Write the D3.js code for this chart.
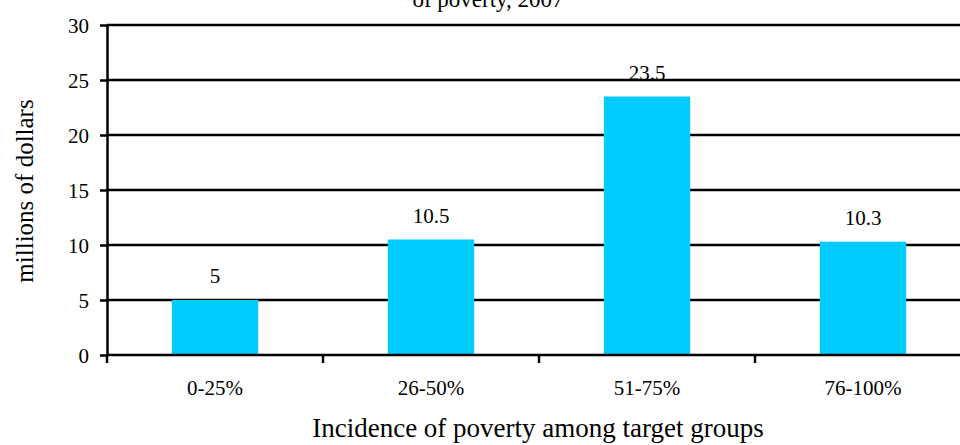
<!DOCTYPE html>
<html><head><meta charset="utf-8">
<script src="https://cdn.jsdelivr.net/npm/d3@7"></script>
<style>body{margin:0;background:#fff}svg{display:block}text{font-family:"Liberation Serif","Times New Roman",serif;fill:#000}</style>
</head><body><svg id="c" width="960" height="445"></svg>
<script>
const categories = ["0-25%", "26-50%", "51-75%", "76-100%"];
const values = [5, 10.5, 23.5, 10.3];
const yTicks = [0, 5, 10, 15, 20, 25, 30];
const titleText = "of poverty,  2007";
const xTitle = "Incidence of poverty among target groups";
const yTitle = "millions of dollars";

(function () {
const svg = d3.select("#c");
const mLeft = 107, mRight = 971, mTop = 25, mBottom = 355;
const x = d3.scaleBand().domain(categories).range([mLeft, mRight]).paddingInner(0.6).paddingOuter(0.3);
const xb = d3.scaleBand().domain(categories).range([mLeft, mRight]);
const y = d3.scaleLinear().domain([0, 30]).range([mBottom, mTop]);
const sw = 2.5;

// gridlines
svg.append("g").selectAll("line").data(yTicks.filter(d => d > 0)).join("line")
  .attr("x1", mLeft).attr("x2", mRight).attr("y1", d => y(d)).attr("y2", d => y(d))
  .attr("stroke", "#000").attr("stroke-width", sw);

// bars
svg.append("g").selectAll("rect").data(values).join("rect")
  .attr("x", (d, i) => x(categories[i])).attr("width", x.bandwidth())
  .attr("y", d => y(d)).attr("height", d => y(0) - y(d)).attr("fill", "#00CCFF");

// value labels
svg.append("g").selectAll("text").data(values).join("text")
  .attr("x", (d, i) => x(categories[i]) + x.bandwidth() / 2).attr("y", d => y(d) - 17)
  .attr("text-anchor", "middle").attr("font-size", 21).text(d => d);

// y axis
const ya = svg.append("g").attr("transform", `translate(${mLeft},0)`)
  .call(d3.axisLeft(y).tickValues(yTicks).tickSize(7).tickPadding(11).tickSizeOuter(0));
ya.selectAll("text").attr("font-size", 21).attr("dy", "0.34em").style("font-family", '"Liberation Serif",serif');
ya.selectAll("line,path").attr("stroke", "#000").attr("stroke-width", sw);

// x axis
const xa = svg.append("g").attr("transform", `translate(0,${mBottom})`);
xa.append("line").attr("x1", mLeft).attr("x2", mRight).attr("y1", 0).attr("y2", 0).attr("stroke", "#000").attr("stroke-width", sw);
xa.selectAll("line.t").data(categories).join("line").attr("class", "t")
  .attr("x1", d => xb(d)).attr("x2", d => xb(d)).attr("y1", 0).attr("y2", 8)
  .attr("stroke", "#000").attr("stroke-width", sw);
xa.selectAll("text").data(categories).join("text")
  .attr("x", d => xb(d) + xb.bandwidth() / 2).attr("y", 40)
  .attr("text-anchor", "middle").attr("font-size", 21).text(d => d);

// titles
svg.append("text").attr("x", 488).attr("y", 7).attr("text-anchor", "middle").attr("font-size", 23).text(titleText);
svg.append("text").attr("x", 538).attr("y", 437).attr("text-anchor", "middle").attr("font-size", 27).text(xTitle);
svg.append("text").attr("transform", "translate(33,191) rotate(-90)").attr("text-anchor", "middle").attr("font-size", 25).text(yTitle);
})();
</script></body></html>
